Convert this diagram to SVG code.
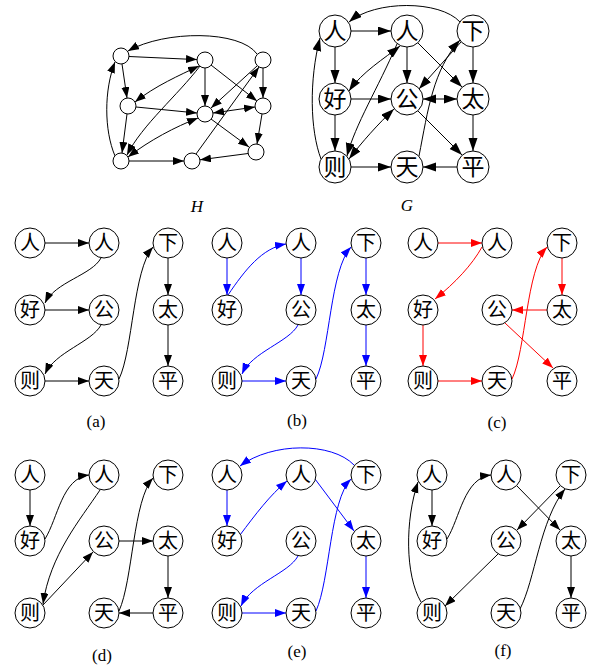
<svg xmlns="http://www.w3.org/2000/svg" width="595" height="671" viewBox="0 0 595 671">
<style>
.c{fill:#fff;stroke:#000;stroke-width:1}
.t{font-family:"Noto Sans CJK SC","Noto Sans CJK JP",sans-serif;font-size:20px;text-anchor:middle;fill:#000}
.tg{font-family:"Noto Sans CJK SC","Noto Sans CJK JP",sans-serif;font-size:23px;text-anchor:middle;fill:#000}
.lab{font-family:"Liberation Serif",serif;font-size:17px;text-anchor:middle;fill:#000}
.it{font-style:italic}
.e{fill:none;stroke:#000;stroke-width:1;marker-end:url(#ak)}
.d{marker-start:url(#ak)}
.g{fill:none;stroke:#000;stroke-width:1;marker-end:url(#ag)}
.gd{marker-start:url(#ag)}
.b{fill:none;stroke:#0000ff;stroke-width:1;marker-end:url(#ab)}
.r{fill:none;stroke:#ff0000;stroke-width:1;marker-end:url(#ar)}
</style>
<defs>
<marker id="ak" markerUnits="userSpaceOnUse" markerWidth="12" markerHeight="9" refX="11" refY="4" orient="auto-start-reverse"><path d="M0,0 L11,4 L0,8 z" fill="#000"/></marker>
<marker id="ag" markerUnits="userSpaceOnUse" markerWidth="14" markerHeight="10" refX="13" refY="4.5" orient="auto-start-reverse"><path d="M0,0 L13,4.5 L0,9 z" fill="#000"/></marker>
<marker id="ab" markerUnits="userSpaceOnUse" markerWidth="12" markerHeight="9" refX="11" refY="4" orient="auto-start-reverse"><path d="M0,0 L11,4 L0,8 z" fill="#0000ff"/></marker>
<marker id="ar" markerUnits="userSpaceOnUse" markerWidth="12" markerHeight="9" refX="11" refY="4" orient="auto-start-reverse"><path d="M0,0 L11,4 L0,8 z" fill="#ff0000"/></marker>
</defs>

<g id="connectors">
<!-- H -->
<path class="e" d="M257,54 C240,30 165,30 128,51"/>
<path class="e" d="M129,56.5 L197,59.6"/>
<path class="e" d="M122,64 L127,98"/>
<path class="e" d="M127,114 L122,153"/>
<path class="e" d="M115,156 C104,130 104,90 115,62"/>
<path class="e" d="M205,68 L205,106"/>
<path class="e" d="M211,65 L257,101"/>
<path class="e d" d="M135,102 C155,86 180,75 199,66"/>
<path class="e" d="M200,66 C178,95 142,125 127,155"/>
<path class="e" d="M136,107 L197,113"/>
<path class="e" d="M257,66 L211,108"/>
<path class="e" d="M263,68 L263,98"/>
<path class="e d" d="M213,113 L255,107"/>
<path class="e" d="M211,119 L249,147"/>
<path class="e d" d="M128,157 C150,140 175,127 198,118"/>
<path class="e" d="M129,161 L184,161"/>
<path class="e" d="M248,153.5 L200,159.8"/>
<path class="e" d="M196,154 L259,67"/>
<path class="e" d="M262,114 L257,144"/>
<!-- G -->
<path class="g" d="M460,22 C440,0 375,0 349,22"/>
<path class="g" d="M351,31 L391,31"/>
<path class="g" d="M335,47 L335,83"/>
<path class="g" d="M335,115 L335,151"/>
<path class="g" d="M321,159 C310,130 309,80 320,38"/>
<path class="g" d="M407,47 L407,83"/>
<path class="g" d="M418,43 L462,87"/>
<path class="g gd" d="M349,91 C362,72 385,58 400,46"/>
<path class="g" d="M397,44 C378,88 355,125 347,156"/>
<path class="g" d="M351,99 L391,99"/>
<path class="g" d="M461,42 L419,89"/>
<path class="g" d="M473,47 L473,83"/>
<path class="g gd" d="M423,99 L457,99"/>
<path class="g" d="M418,111 L462,155"/>
<path class="g gd" d="M349,159 C362,142 378,124 394,109"/>
<path class="g" d="M351,167 L391,167"/>
<path class="g" d="M457,167 L423,167"/>
<path class="g" d="M419,156 C428,110 433,70 460,40"/>
<path class="g" d="M473,115 L473,151"/>
<!-- (a) -->
<path class="e" d="M45,243 L89,243"/>
<path class="e" d="M101,258 C92,275 55,282 45,303"/>
<path class="e" d="M45,310 L89,310"/>
<path class="e" d="M101,325 C92,342 55,352 45,374"/>
<path class="e" d="M45,381 L89,381"/>
<path class="e" d="M119,379 C133,350 133,270 153,247"/>
<path class="e" d="M168,258 L168,295"/>
<path class="e" d="M168,325 L168,366"/>
<!-- (b) -->
<path class="b" d="M227,258 L227,295"/>
<path class="b" d="M228,295 C245,270 262,248 286,244"/>
<path class="b" d="M301,258 L301,295"/>
<path class="b" d="M298,325 C289,342 252,352 242,374"/>
<path class="b" d="M242,381 L286,381"/>
<path class="b" d="M316,379 C330,350 330,270 351,247"/>
<path class="b" d="M366,258 L366,295"/>
<path class="b" d="M366,325 L366,366"/>
<!-- (c) -->
<path class="r" d="M438,243 L482,243"/>
<path class="r" d="M482,247 C472,265 455,283 435,299"/>
<path class="r" d="M423,325 L423,366"/>
<path class="r" d="M438,381 L482,381"/>
<path class="r" d="M512,379 C526,350 526,270 547,247"/>
<path class="r" d="M562,258 L562,295"/>
<path class="r" d="M547,310 L512,310"/>
<path class="r" d="M505,323 L553,368"/>
<!-- (d) -->
<path class="e" d="M30,490 L30,526"/>
<path class="e" d="M45,539 C58,518 62,478 89,475"/>
<path class="e" d="M100,490 C80,520 50,555 43,604"/>
<path class="e" d="M43,605 L93,552"/>
<path class="e" d="M119,541 L153,541"/>
<path class="e" d="M168,556 L168,598"/>
<path class="e" d="M153,613 L119,613"/>
<path class="e" d="M119,611 C133,580 133,500 153,478"/>
<!-- (e) -->
<path class="b" d="M354,465 C332,442 272,442 240,466"/>
<path class="b" d="M227,490 L227,526"/>
<path class="b" d="M240,535 C255,515 270,495 287,481"/>
<path class="b" d="M315,479 L354,531"/>
<path class="b" d="M366,556 L366,598"/>
<path class="b" d="M298,556 C289,573 252,583 241,606"/>
<path class="b" d="M242,613 L286,613"/>
<path class="b" d="M316,611 C330,580 330,500 351,479"/>
<!-- (f) -->
<path class="e" d="M421,602 C405,575 405,520 418,482"/>
<path class="e" d="M432,490 L432,526"/>
<path class="e" d="M447,539 C460,518 464,478 491,475"/>
<path class="e" d="M560,486 L517,530"/>
<path class="e" d="M517,486 L560,530"/>
<path class="e" d="M571,556 L571,598"/>
<path class="e" d="M498,554 L445,606"/>
<path class="e" d="M520,609 C535,580 540,520 565,489"/>
</g>

<!-- H nodes -->
<g id="H-nodes">
<circle id="h1" class="c" cx="121" cy="56" r="8"/>
<circle id="h2" class="c" cx="205" cy="60" r="8"/>
<circle id="h3" class="c" cx="263" cy="60" r="8"/>
<circle id="h4" class="c" cx="128" cy="106" r="8"/>
<circle id="h5" class="c" cx="205" cy="114" r="8"/>
<circle id="h6" class="c" cx="263" cy="106" r="8"/>
<circle id="h7" class="c" cx="121" cy="161" r="8"/>
<circle id="h8" class="c" cx="192" cy="161" r="8"/>
<circle id="h9" class="c" cx="256" cy="152" r="8"/>
</g>
<text class="lab it" x="197" y="212">H</text>

<!-- G nodes -->
<g id="G-ren1"><circle class="c" cx="335" cy="31" r="16"/><text class="tg" x="335" y="39">人</text></g>
<g id="G-ren2"><circle class="c" cx="407" cy="31" r="16"/><text class="tg" x="407" y="39">人</text></g>
<g id="G-xia"><circle class="c" cx="473" cy="31" r="16"/><text class="tg" x="473" y="39">下</text></g>
<g id="G-hao"><circle class="c" cx="335" cy="99" r="16"/><text class="tg" x="335" y="107">好</text></g>
<g id="G-gong"><circle class="c" cx="407" cy="99" r="16"/><text class="tg" x="407" y="107">公</text></g>
<g id="G-tai"><circle class="c" cx="473" cy="99" r="16"/><text class="tg" x="473" y="107">太</text></g>
<g id="G-ze"><circle class="c" cx="335" cy="167" r="16"/><text class="tg" x="335" y="175">则</text></g>
<g id="G-tian"><circle class="c" cx="407" cy="167" r="16"/><text class="tg" x="407" y="175">天</text></g>
<g id="G-ping"><circle class="c" cx="473" cy="167" r="16"/><text class="tg" x="473" y="175">平</text></g>
<text class="lab it" x="407" y="211">G</text>

<!-- (a) -->
<g id="a-ren1"><circle class="c" cx="30" cy="243" r="15"/><text class="t" x="30" y="250">人</text></g>
<g id="a-ren2"><circle class="c" cx="104" cy="243" r="15"/><text class="t" x="104" y="250">人</text></g>
<g id="a-xia"><circle class="c" cx="168" cy="243" r="15"/><text class="t" x="168" y="250">下</text></g>
<g id="a-hao"><circle class="c" cx="30" cy="310" r="15"/><text class="t" x="30" y="317">好</text></g>
<g id="a-gong"><circle class="c" cx="104" cy="310" r="15"/><text class="t" x="104" y="317">公</text></g>
<g id="a-tai"><circle class="c" cx="168" cy="310" r="15"/><text class="t" x="168" y="317">太</text></g>
<g id="a-ze"><circle class="c" cx="30" cy="381" r="15"/><text class="t" x="30" y="388">则</text></g>
<g id="a-tian"><circle class="c" cx="104" cy="381" r="15"/><text class="t" x="104" y="388">天</text></g>
<g id="a-ping"><circle class="c" cx="168" cy="381" r="15"/><text class="t" x="168" y="388">平</text></g>
<text class="lab" x="96" y="427">(a)</text>

<!-- (b) -->
<g id="b-ren1"><circle class="c" cx="227" cy="243" r="15"/><text class="t" x="227" y="250">人</text></g>
<g id="b-ren2"><circle class="c" cx="301" cy="243" r="15"/><text class="t" x="301" y="250">人</text></g>
<g id="b-xia"><circle class="c" cx="366" cy="243" r="15"/><text class="t" x="366" y="250">下</text></g>
<g id="b-hao"><circle class="c" cx="227" cy="310" r="15"/><text class="t" x="227" y="317">好</text></g>
<g id="b-gong"><circle class="c" cx="301" cy="310" r="15"/><text class="t" x="301" y="317">公</text></g>
<g id="b-tai"><circle class="c" cx="366" cy="310" r="15"/><text class="t" x="366" y="317">太</text></g>
<g id="b-ze"><circle class="c" cx="227" cy="381" r="15"/><text class="t" x="227" y="388">则</text></g>
<g id="b-tian"><circle class="c" cx="301" cy="381" r="15"/><text class="t" x="301" y="388">天</text></g>
<g id="b-ping"><circle class="c" cx="366" cy="381" r="15"/><text class="t" x="366" y="388">平</text></g>
<text class="lab" x="297" y="426">(b)</text>

<!-- (c) -->
<g id="c-ren1"><circle class="c" cx="423" cy="243" r="15"/><text class="t" x="423" y="250">人</text></g>
<g id="c-ren2"><circle class="c" cx="497" cy="243" r="15"/><text class="t" x="497" y="250">人</text></g>
<g id="c-xia"><circle class="c" cx="562" cy="243" r="15"/><text class="t" x="562" y="250">下</text></g>
<g id="c-hao"><circle class="c" cx="423" cy="310" r="15"/><text class="t" x="423" y="317">好</text></g>
<g id="c-gong"><circle class="c" cx="497" cy="310" r="15"/><text class="t" x="497" y="317">公</text></g>
<g id="c-tai"><circle class="c" cx="562" cy="310" r="15"/><text class="t" x="562" y="317">太</text></g>
<g id="c-ze"><circle class="c" cx="423" cy="381" r="15"/><text class="t" x="423" y="388">则</text></g>
<g id="c-tian"><circle class="c" cx="497" cy="381" r="15"/><text class="t" x="497" y="388">天</text></g>
<g id="c-ping"><circle class="c" cx="562" cy="381" r="15"/><text class="t" x="562" y="388">平</text></g>
<text class="lab" x="497" y="428">(c)</text>

<!-- (d) -->
<g id="d-ren1"><circle class="c" cx="30" cy="475" r="15"/><text class="t" x="30" y="482">人</text></g>
<g id="d-ren2"><circle class="c" cx="104" cy="475" r="15"/><text class="t" x="104" y="482">人</text></g>
<g id="d-xia"><circle class="c" cx="168" cy="475" r="15"/><text class="t" x="168" y="482">下</text></g>
<g id="d-hao"><circle class="c" cx="30" cy="541" r="15"/><text class="t" x="30" y="548">好</text></g>
<g id="d-gong"><circle class="c" cx="104" cy="541" r="15"/><text class="t" x="104" y="548">公</text></g>
<g id="d-tai"><circle class="c" cx="168" cy="541" r="15"/><text class="t" x="168" y="548">太</text></g>
<g id="d-ze"><circle class="c" cx="30" cy="613" r="15"/><text class="t" x="30" y="620">则</text></g>
<g id="d-tian"><circle class="c" cx="104" cy="613" r="15"/><text class="t" x="104" y="620">天</text></g>
<g id="d-ping"><circle class="c" cx="168" cy="613" r="15"/><text class="t" x="168" y="620">平</text></g>
<text class="lab" x="102" y="661">(d)</text>

<!-- (e) -->
<g id="e-ren1"><circle class="c" cx="227" cy="475" r="15"/><text class="t" x="227" y="482">人</text></g>
<g id="e-ren2"><circle class="c" cx="301" cy="475" r="15"/><text class="t" x="301" y="482">人</text></g>
<g id="e-xia"><circle class="c" cx="366" cy="475" r="15"/><text class="t" x="366" y="482">下</text></g>
<g id="e-hao"><circle class="c" cx="227" cy="541" r="15"/><text class="t" x="227" y="548">好</text></g>
<g id="e-gong"><circle class="c" cx="301" cy="541" r="15"/><text class="t" x="301" y="548">公</text></g>
<g id="e-tai"><circle class="c" cx="366" cy="541" r="15"/><text class="t" x="366" y="548">太</text></g>
<g id="e-ze"><circle class="c" cx="227" cy="613" r="15"/><text class="t" x="227" y="620">则</text></g>
<g id="e-tian"><circle class="c" cx="301" cy="613" r="15"/><text class="t" x="301" y="620">天</text></g>
<g id="e-ping"><circle class="c" cx="366" cy="613" r="15"/><text class="t" x="366" y="620">平</text></g>
<text class="lab" x="297" y="657">(e)</text>

<!-- (f) -->
<g id="f-ren1"><circle class="c" cx="432" cy="475" r="15"/><text class="t" x="432" y="482">人</text></g>
<g id="f-ren2"><circle class="c" cx="506" cy="475" r="15"/><text class="t" x="506" y="482">人</text></g>
<g id="f-xia"><circle class="c" cx="571" cy="475" r="15"/><text class="t" x="571" y="482">下</text></g>
<g id="f-hao"><circle class="c" cx="432" cy="541" r="15"/><text class="t" x="432" y="548">好</text></g>
<g id="f-gong"><circle class="c" cx="506" cy="541" r="15"/><text class="t" x="506" y="548">公</text></g>
<g id="f-tai"><circle class="c" cx="571" cy="541" r="15"/><text class="t" x="571" y="548">太</text></g>
<g id="f-ze"><circle class="c" cx="432" cy="613" r="15"/><text class="t" x="432" y="620">则</text></g>
<g id="f-tian"><circle class="c" cx="506" cy="613" r="15"/><text class="t" x="506" y="620">天</text></g>
<g id="f-ping"><circle class="c" cx="571" cy="613" r="15"/><text class="t" x="571" y="620">平</text></g>
<text class="lab" x="503" y="656">(f)</text>
</svg>
